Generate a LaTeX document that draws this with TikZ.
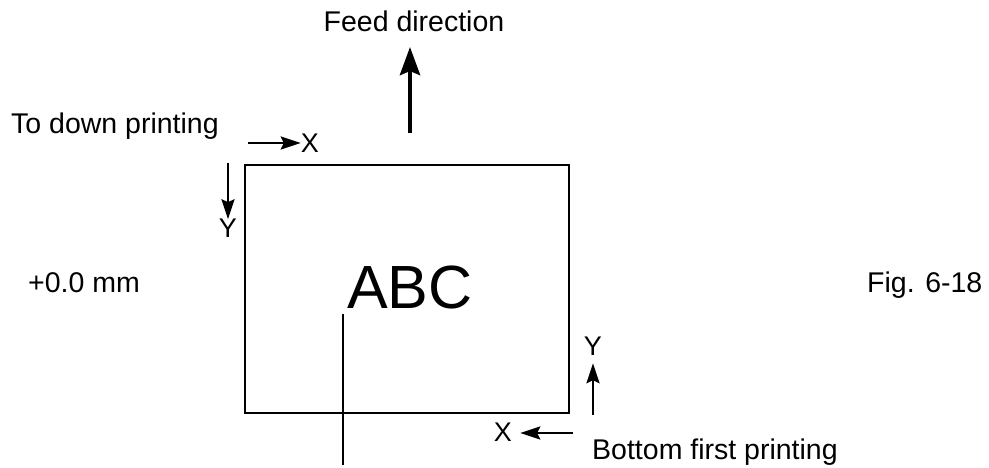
\documentclass[tikz,border=0pt]{standalone}
\usepackage{fontspec}
\setmainfont{Liberation Sans}
\usetikzlibrary{arrows.meta,positioning}
\tikzset{
  ar/.style={-{Stealth[length=20pt,width=13pt,inset=3pt]},line width=2.6pt},
  feedar/.style={-{Stealth[length=28pt,width=20pt,inset=4pt]},line width=4.6pt},
  ln/.style={line width=2.6pt},
  txt/.style={font=\fontsize{28.5}{34}\selectfont,inner sep=0pt},
  axl/.style={font=\fontsize{27}{32}\selectfont,inner sep=0pt}
}

\begin{document}
\begin{tikzpicture}[x=1pt,y=-1pt]
\useasboundingbox (0,0) rectangle (989,468);
% sheet
\node[draw,line width=2.8pt,minimum width=324pt,minimum height=248pt,inner sep=0pt] (sheet) at (407,289) {};
\node[font=\fontsize{61}{70}\selectfont,inner sep=0pt,anchor=base] (abc) at (410,308) {ABC};
% texts
\node[txt,anchor=base] (feed) at (414,32) {Feed direction};
\node[txt,anchor=base west] (todown) at (11,134) {To down printing};
\node[txt,anchor=base west] (offset) at (28,292) {+0.0 mm};
\node[txt,anchor=base west] (fig) at (867,292) {Fig. 6-18};
\node[txt,anchor=base west] (bottom) at (592,459) {Bottom first printing};
% axis labels
\node[axl,anchor=base] (xtop) at (310,153) {X};
\node[axl,anchor=base] (yleft) at (228,238) {Y};
\node[axl,anchor=base] (yright) at (593,355) {Y};
\node[axl,anchor=base] (xbot) at (503,441) {X};
% arrows
\coordinate (feedtail) at (410,133);
\coordinate (feedtip) at (410,47);
\draw[feedar] (feedtail) -- (feedtip);
\coordinate (xa) at (248,143);
\draw[ar] (xa) -- (xa -| xtop.west);
\coordinate (ya) at (228,163);
\draw[ar] (ya) -- (ya |- yleft.north);
\coordinate (yb) at (593,415);
\draw[ar,shorten >=8pt] (yb) -- (yb |- yright.south);
\coordinate (xb) at (573,433);
\draw[ar,shorten >=8pt] (xb) -- (xb -| xbot.east);
% reference line
\coordinate (vt) at (343,314);
\coordinate (vb) at (343,465);
\draw[ln] (vt) -- (vb);
\end{tikzpicture}
\end{document}
